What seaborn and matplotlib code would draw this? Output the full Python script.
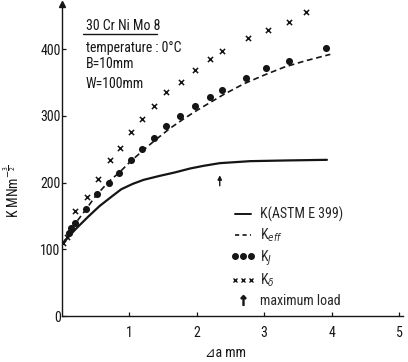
import matplotlib
matplotlib.use('Agg')
import matplotlib.pyplot as plt
import seaborn as sns
from matplotlib.lines import Line2D
from matplotlib.legend_handler import HandlerLine2D

# K (ASTM E 399) - solid curve
da_astm = [0, 0.1, 0.2, 0.39, 0.56, 0.75, 0.88, 1.05, 1.21, 1.45, 1.67, 1.9, 2.1, 2.34, 2.79, 3.3, 3.93]
k_astm = [107, 119, 130, 149, 165, 180, 190, 198, 204, 210, 215, 221, 225, 229, 232, 233, 234]

# K_eff - dashed curve
da_eff = [0, 0.1, 0.2, 0.35, 0.5, 0.7, 0.85, 1.0, 1.2, 1.4, 1.6, 1.8, 2.0, 2.2, 2.4, 2.7, 3.0, 3.3, 3.6, 3.98]
k_eff = [107, 123, 139, 159, 180, 202, 215, 230, 248, 265, 281, 295, 308, 320, 332, 348, 361, 373, 382, 392]

# K_J - dots
da_j = [0.10, 0.14, 0.20, 0.36, 0.52, 0.69, 0.85, 1.02, 1.18, 1.37, 1.54, 1.75, 1.97, 2.20, 2.38, 2.73, 3.03, 3.37, 3.92]
k_j = [125, 132, 140, 161, 183, 200, 215, 234, 250, 266, 285, 300, 315, 328, 339, 357, 371, 382, 401]

# K_delta - crosses
da_d = [0.02, 0.08, 0.19, 0.37, 0.54, 0.71, 0.86, 1.03, 1.18, 1.37, 1.55, 1.77, 1.98, 2.20, 2.38, 2.76, 3.05, 3.37, 3.62]
k_d = [109, 118, 157, 179, 206, 233, 251, 276, 295, 315, 335, 351, 368, 385, 397, 416, 429, 441, 455]

# maximum load position
da_max = 2.34
k_max_tail, k_max_head = 191, 215

info_lines = ['30 Cr Ni Mo 8', 'temperature : 0°C', 'B=10mm', 'W=100mm']
legend_labels = ['K(ASTM E 399)', r'K$_{\it{eff}}$', r'K$_{J}$', r'K$_{\delta}$', 'maximum load']

sns.set_theme(style='white')
plt.rcParams['font.family'] = ['Liberation Sans Narrow', 'Roboto Condensed', 'DejaVu Sans']
plt.rcParams['font.stretch'] = 'condensed'
plt.rcParams['mathtext.fontset'] = 'custom'
plt.rcParams['mathtext.rm'] = 'DejaVu Sans:stretch=condensed'
plt.rcParams['mathtext.it'] = 'DejaVu Sans:italic:stretch=condensed'
plt.rcParams['font.size'] = 10

ink = '#151515'
fig = plt.figure(figsize=(4.08, 3.62), dpi=100)
ax = fig.add_axes([0.152, 0.127, 0.836, 0.863])

sns.lineplot(x=da_astm, y=k_astm, ax=ax, color=ink, lw=1.6, sort=False, estimator=None)
sns.lineplot(x=da_eff, y=k_eff, ax=ax, color=ink, lw=1.2, sort=False, estimator=None, linestyle=(0, (3.5, 2.2)))
sns.scatterplot(x=da_j, y=k_j, ax=ax, color=ink, marker='o', s=26, edgecolor=ink, linewidth=0, zorder=4)
sns.scatterplot(x=da_d, y=k_d, ax=ax, color=ink, marker='x', s=14, linewidth=1.1, zorder=4)

ax.annotate('', xy=(da_max, k_max_head), xytext=(da_max, k_max_tail),
            arrowprops=dict(arrowstyle='-|>', color=ink, lw=1.0, mutation_scale=6))

ax.set_xlim(0, 5.06)
ax.set_ylim(0, 468)
ax.set_xticks([1, 2, 3, 4, 5])
ax.set_yticks([0, 100, 200, 300, 400])
for s in ['top', 'right']:
    ax.spines[s].set_visible(False)
for s in ['left', 'bottom']:
    ax.spines[s].set_color(ink)
    ax.spines[s].set_linewidth(1.0)
ax.plot([0], [1], marker='^', ms=4, color=ink, transform=ax.transAxes, clip_on=False)
ax.tick_params(axis='both', bottom=True, left=True, direction='in', length=3, width=0.9,
               labelsize=10, colors=ink)
ax.tick_params(axis='x', pad=7)
ax.tick_params(axis='y', pad=1)

ax.set_xlabel('⊿a mm', fontsize=10, color=ink)
ax.xaxis.set_label_coords(0.48, -0.097)
ax.set_ylabel(r'K MNm$^{-\frac{3}{2}}$', fontsize=10, color=ink)
ax.yaxis.set_label_coords(-0.117, 0.40)

ys = [0.928, 0.859, 0.806, 0.742]
for txt, y in zip(info_lines, ys):
    ax.text(0.07, y, txt, transform=ax.transAxes, va='center', ha='left', fontsize=10, color=ink)
ax.plot([0.062, 0.279], [0.903, 0.903], color=ink, lw=1.0, transform=ax.transAxes)

handles = [
    Line2D([], [], color=ink, lw=1.4),
    Line2D([], [], color=ink, lw=1.2, linestyle=(0, (2.5, 2))),
    Line2D([], [], color=ink, lw=0, marker='o', ms=4),
    Line2D([], [], color=ink, lw=0, marker='x', ms=3, mew=1.0),
    Line2D([], [], color=ink, lw=0, marker=r'$\uparrow$', ms=7),
]
ax.legend(handles, legend_labels, loc='upper left', bbox_to_anchor=(0.496, 0.35),
          frameon=False, numpoints=3, handlelength=1.7, handletextpad=0.4,
          labelspacing=0.32, borderpad=0, borderaxespad=0, fontsize=10,
          handler_map={handles[4]: HandlerLine2D(numpoints=1)})

fig.savefig('out.png', dpi=100)
